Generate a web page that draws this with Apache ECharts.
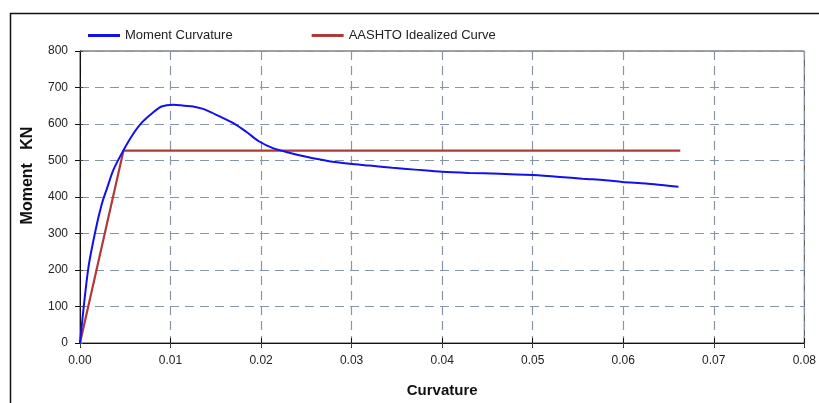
<!DOCTYPE html>
<html>
<head>
<meta charset="utf-8">
<script src="https://cdn.jsdelivr.net/npm/echarts@6/dist/echarts.min.js"></script>
<style>
html,body{margin:0;padding:0;background:#fff;}
#c{width:819px;height:403px;}
</style>
</head>
<body>
<div id="c"></div>
<script>
// Moment curvature curve
const curvature = [0, 0.0009, 0.0017, 0.0024, 0.0030, 0.0037, 0.0048, 0.0058, 0.0068, 0.0080, 0.0090, 0.0103, 0.0115, 0.0125, 0.0135, 0.0143, 0.0155, 0.0169, 0.0184, 0.0198, 0.0213, 0.0230, 0.0250, 0.0275, 0.0298, 0.0320, 0.0345, 0.0370, 0.0400, 0.0430, 0.0463, 0.0500, 0.0530, 0.0555, 0.0580, 0.0599, 0.0625, 0.0645, 0.0661];
const moment = [0, 202, 307, 380, 425, 475, 528, 570, 603, 630, 648, 653, 650, 648, 642, 634, 620, 603, 578, 552, 534, 522, 510, 498, 491, 486, 480, 475, 469, 466, 464, 460, 455, 450, 446, 441, 437, 432, 428];
// AASHTO idealized curve
const idealCurvature = [0, 0.0048, 0.0663];
const idealMoment = [0, 527, 527];
// axes
const xTicks = [0, 0.01, 0.02, 0.03, 0.04, 0.05, 0.06, 0.07, 0.08];
const yTicks = [0, 100, 200, 300, 400, 500, 600, 700, 800];
const seriesNames = ['Moment Curvature', 'AASHTO Idealized Curve'];

const zip = (a, b) => a.map((v, i) => [v, b[i]]);
const font = 'Arial, "Liberation Sans", sans-serif';
const chart = echarts.init(document.getElementById('c'), null, {renderer: 'canvas'});
const xBase = {
  type: 'value', min: xTicks[0], max: xTicks[xTicks.length - 1], interval: xTicks[1] - xTicks[0]
};
const yBase = {
  type: 'value', min: yTicks[0], max: yTicks[yTicks.length - 1], interval: yTicks[1] - yTicks[0]
};
const gridLine = {show: true, lineStyle: {color: '#8696a8', type: [9, 6], width: 1.2}};
chart.setOption({
  animation: false,
  backgroundColor: '#fff',
  textStyle: {fontFamily: font},
  grid: {left: 80, right: 13, top: 51, bottom: 59, show: true, borderColor: '#444', borderWidth: 1, backgroundColor: 'transparent'},
  legend: {
    left: 83, top: 24,
    itemWidth: 32, itemHeight: 3, itemGap: 79, icon: 'rect',
    textStyle: {fontSize: 13, color: '#222', fontFamily: font, padding: [0, 0, 0, 0]},
    data: seriesNames
  },
  xAxis: [
    Object.assign({}, xBase, {
      position: 'bottom',
      name: 'Curvature', nameLocation: 'middle', nameGap: 40,
      nameTextStyle: {fontSize: 15, fontWeight: 'bold', color: '#111', fontFamily: font},
      axisLine: {show: true, lineStyle: {color: '#111', width: 1}},
      axisTick: {show: true, length: 5, lineStyle: {color: '#111'}},
      axisLabel: {show: true, margin: 12, fontSize: 12, color: '#222', formatter: v => v.toFixed(2)},
      splitLine: gridLine
    }),
    Object.assign({}, xBase, {
      position: 'top',
      axisLine: {show: false},
      axisTick: {show: true, inside: true, length: 4, lineStyle: {color: '#444'}},
      axisLabel: {show: false},
      splitLine: {show: false}
    }),
    Object.assign({}, xBase, {
      position: 'bottom', offset: 0,
      axisLine: {show: false},
      axisTick: {show: true, inside: true, length: 5, lineStyle: {color: '#111'}},
      axisLabel: {show: false},
      splitLine: {show: false}
    })
  ],
  yAxis: [
    Object.assign({}, yBase, {
      position: 'left',
      name: 'Moment   KN', nameLocation: 'middle', nameGap: 44,
      nameTextStyle: {fontSize: 16, fontWeight: 'bold', color: '#111', fontFamily: font, padding: [0, 0, 0, 43]},
      axisLine: {show: true, lineStyle: {color: '#111', width: 1}},
      axisTick: {show: true, length: 5, lineStyle: {color: '#111'}},
      axisLabel: {show: true, margin: 12, fontSize: 12, color: '#222'},
      splitLine: gridLine
    }),
    Object.assign({}, yBase, {
      position: 'right',
      axisLine: {show: false},
      axisTick: {show: true, length: 3, lineStyle: {color: '#444'}},
      axisLabel: {show: false},
      splitLine: {show: false}
    })
  ],
  graphic: [{
    type: 'rect', silent: true, z: 100,
    shape: {x: 10.5, y: 13.5, width: 830, height: 420},
    style: {fill: 'none', stroke: '#111', lineWidth: 1.5}
  }],
  series: [
    {
      name: seriesNames[0], type: 'line', xAxisIndex: 0, yAxisIndex: 0,
      data: zip(curvature, moment), showSymbol: false, smooth: 0.3,
      lineStyle: {color: '#1010f0', width: 2}, itemStyle: {color: '#1010f0'}, z: 3
    },
    {
      name: seriesNames[1], type: 'line', xAxisIndex: 0, yAxisIndex: 0,
      data: zip(idealCurvature, idealMoment), showSymbol: false,
      lineStyle: {color: '#b03a3a', width: 2.2}, itemStyle: {color: '#b03a3a'}, z: 2
    }
  ]
});
</script>
</body>
</html>
